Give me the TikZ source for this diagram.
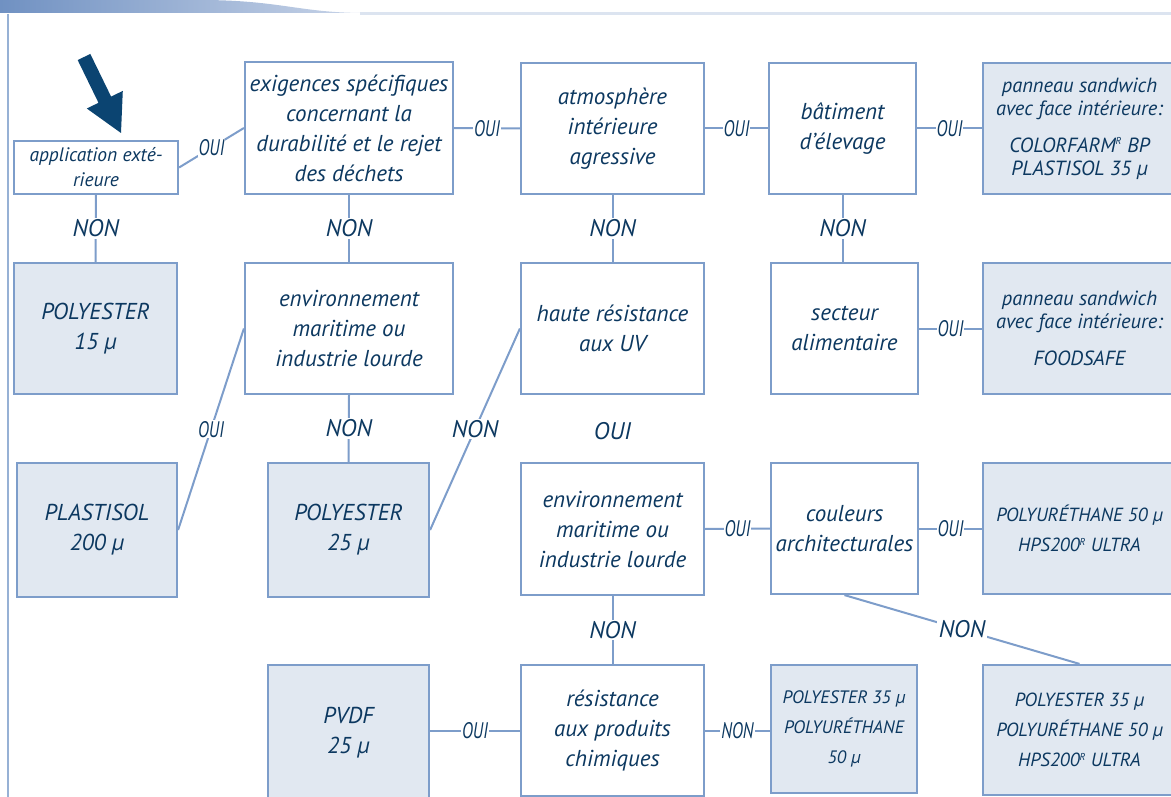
\documentclass[tikz,border=0pt]{standalone}
\usepackage{fontspec}
\setmainfont{PT Sans}
\definecolor{bordc}{RGB}{125,157,202}
\definecolor{prodc}{RGB}{225,232,241}
\definecolor{txtc}{RGB}{12,56,96}
\definecolor{arrc}{RGB}{11,68,113}
\definecolor{bandl}{RGB}{112,145,194}
\definecolor{bandr}{RGB}{200,212,232}
\definecolor{thinl}{RGB}{220,228,240}
\newcommand{\cnd}[1]{\scalebox{0.74}[1]{#1}}
\newcommand{\supR}{\textsuperscript{\fontsize{10}{10}\selectfont R}}
\begin{document}
\begin{tikzpicture}[x=1pt,y=-1pt,
  qbox/.style={draw=bordc, line width=2.2pt, fill=white, text=txtc, align=center,
    font=\itshape\fontsize{23}{30}\selectfont, inner sep=2pt},
  pbox/.style={qbox, fill=prodc},
  lab/.style={fill=white, text=txtc, font=\itshape\fontsize{24}{24}\selectfont, inner sep=1.5pt},
  slab/.style={lab, font=\itshape\fontsize{22.5}{22.5}\selectfont, inner sep=1pt},
  conn/.style={draw=bordc, line width=2pt}]
\useasboundingbox (0,0) rectangle (1171,797);
\clip (0,0) rectangle (1171,797);
% header band
\shade[left color=bandl, right color=bandr] (0,0) -- (200,0) .. controls (280,0) and (300,13) .. (365,13) -- (0,13) -- cycle;
\draw[thinl, line width=3pt] (360,14) -- (1171,14);
\draw[bordc!80, line width=1.2pt] (8,14) -- (8,797);
% arrow
\fill[arrc] (77.7,60.1) -- (90.3,53.9) -- (111.1,96.6) -- (122.8,90.9) -- (121,133) -- (86.8,108.5) -- (98.5,102.8) -- cycle;
% boxes row 1
\node[qbox, minimum width=164, minimum height=53, font=\itshape\fontsize{19.5}{25}\selectfont] (app) at (96,167.5) {application exté-\\rieure};
\node[qbox, minimum width=208, minimum height=132] (exig) at (349,128) {exigences spécifiques\\concernant la\\durabilité et le rejet\\des déchets};
\node[qbox, minimum width=183, minimum height=131] (atmo) at (612.5,128.5) {atmosphère\\intérieure\\agressive};
\node[qbox, minimum width=147, minimum height=131] (bat) at (842.5,128.5) {bâtiment\\d’élevage};
\node[pbox, minimum width=193, minimum height=131, font=\itshape\fontsize{20.5}{23}\selectfont] (pan1) at (1079.5,128.5) {panneau sandwich\\avec face intérieure:\\[14pt]COLORFARM\supR{} BP\\PLASTISOL 35 µ};
% row 2
\node[pbox, minimum width=163, minimum height=131] (p15) at (95.5,328.5) {POLYESTER\\15 µ};
\node[qbox, minimum width=208, minimum height=131] (env1) at (349,328.5) {environnement\\maritime ou\\industrie lourde};
\node[qbox, minimum width=183, minimum height=131] (uv) at (612.5,328.5) {haute résistance\\aux UV};
\node[qbox, minimum width=147, minimum height=131] (sect) at (844.5,328.5) {secteur\\alimentaire};
\node[pbox, minimum width=193, minimum height=131, font=\itshape\fontsize{20.5}{23}\selectfont] (pan2) at (1079.5,328.5) {panneau sandwich\\avec face intérieure:\\[14pt]FOODSAFE};
% row 3
\node[pbox, minimum width=160, minimum height=134] (plast) at (97,530) {PLASTISOL\\200 µ};
\node[pbox, minimum width=161, minimum height=134] (p25) at (348.5,530) {POLYESTER\\25 µ};
\node[qbox, minimum width=183, minimum height=132] (env2) at (612.5,529) {environnement\\maritime ou\\industrie lourde};
\node[qbox, minimum width=147, minimum height=131] (coul) at (844.5,528.5) {couleurs\\architecturales};
\node[pbox, minimum width=193, minimum height=131, font=\itshape\fontsize{19}{30}\selectfont] (pan3) at (1079.5,528.5) {POLYURÉTHANE 50 µ\\HPS200\supR{} ULTRA};
% row 4
\node[pbox, minimum width=161, minimum height=135] (pvdf) at (348.5,732.5) {PVDF\\25 µ};
\node[qbox, minimum width=183, minimum height=131] (res) at (612.5,730.5) {résistance\\aux produits\\chimiques};
\node[pbox, minimum width=146, minimum height=128, font=\itshape\fontsize{18}{30}\selectfont] (p35s) at (844,729) {POLYESTER 35 µ\\POLYURÉTHANE\\50 µ};
\node[pbox, minimum width=193, minimum height=130, font=\itshape\fontsize{19}{30}\selectfont] (p35b) at (1079.5,730) {POLYESTER 35 µ\\POLYURÉTHANE 50 µ\\HPS200\supR{} ULTRA};
% connectors
\draw[conn] (app.east) -- node[slab]{\cnd{OUI}} (exig.west);
\draw[conn] (app.south) -- node[lab]{NON} (p15.north);
\draw[conn] (exig.east) -- node[slab]{\cnd{OUI}} (atmo.west);
\draw[conn] (exig.south) -- node[lab]{NON} (env1.north);
\draw[conn] (atmo.east) -- node[slab]{\cnd{OUI}} (bat.west);
\draw[conn] (atmo.south) -- node[lab]{NON} (uv.north);
\draw[conn] (bat.east) -- node[slab]{\cnd{OUI}} (pan1.west);
\draw[conn] (bat.south) -- node[lab]{NON} (bat.south |- sect.north);
\draw[conn] (sect.east) -- node[slab]{\cnd{OUI}} (pan2.west);
\draw[conn] (env1.west) -- node[slab]{\cnd{OUI}} (plast.east);
\draw[conn] (env1.south) -- node[lab]{NON} (p25.north);
\draw[conn] (uv.west) -- node[lab]{NON} (p25.east);
\node[lab] (uvoui) at (612.5,431) {OUI};
\draw[conn] (env2.east) -- node[slab]{\cnd{OUI}} (coul.west);
\draw[conn] (coul.east) -- node[slab]{\cnd{OUI}} (pan3.west);
\draw[conn] (coul.south) -- node[lab]{NON} (p35b.north);
\draw[conn] (env2.south) -- node[lab]{NON} (res.north);
\draw[conn] (res.west) -- node[slab]{\cnd{OUI}} (res.west -| pvdf.east);
\draw[conn] (res.east) -- node[slab]{\cnd{NON}} (res.east -| p35s.west);
\end{tikzpicture}
\end{document}
